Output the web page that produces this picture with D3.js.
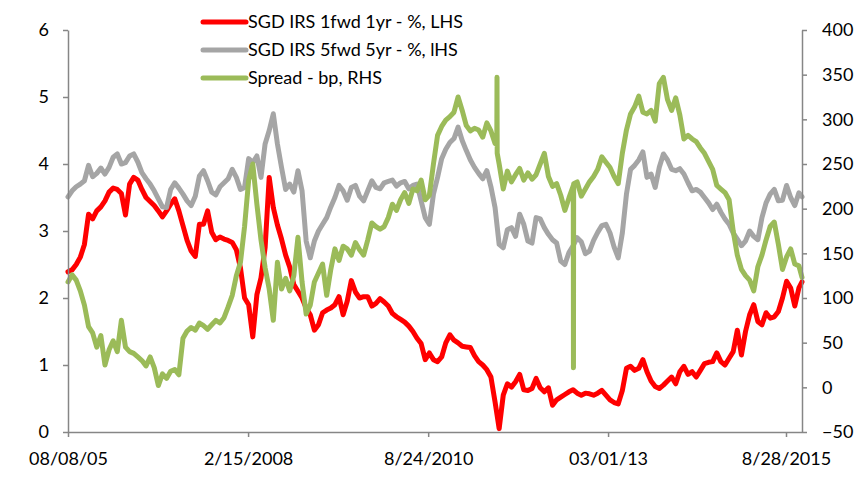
<!DOCTYPE html>
<html>
<head>
<meta charset="utf-8">
<script src="https://cdn.jsdelivr.net/npm/d3@7"></script>
<style>
    body { margin: 0; background: #ffffff; }
    text { font-family: Lato, "Open Sans", sans-serif; }
</style>
</head>
<body>
<svg id="canvas"></svg>
<script>
// sampling: one reading every 21 days from the first date
const startDate = "2005-08-08";
const stepDays = 21;

const seriesNames = ["SGD IRS 1fwd 1yr - %, LHS", "SGD IRS 5fwd 5yr - %, lHS", "Spread - bp, RHS"];

const irs1y1y = [
    2.39, 2.42, 2.50, 2.61, 2.80, 3.25, 3.18, 3.30, 3.36, 3.45,
    3.58, 3.64, 3.62, 3.56, 3.24, 3.70, 3.80, 3.76, 3.62, 3.50,
    3.44, 3.38, 3.30, 3.21, 3.30, 3.40, 3.48, 3.30, 3.08, 2.86,
    2.70, 2.62, 3.10, 3.10, 3.30, 2.98, 2.87, 2.91, 2.88, 2.86,
    2.83, 2.72, 2.45, 2.00, 1.90, 1.42, 2.05, 2.30, 2.75, 3.80,
    3.35, 3.09, 2.88, 2.64, 2.46, 2.20, 2.10, 2.00, 1.85, 1.75,
    1.52, 1.60, 1.78, 1.82, 1.85, 1.90, 2.02, 1.75, 1.95, 2.26,
    2.09, 2.00, 2.02, 2.02, 1.88, 1.92, 1.99, 1.94, 1.88, 1.77,
    1.72, 1.68, 1.64, 1.58, 1.50, 1.40, 1.32, 1.08, 1.18, 1.08,
    1.05, 1.12, 1.33, 1.45, 1.37, 1.33, 1.28, 1.27, 1.26, 1.14,
    1.05, 1.00, 0.93, 0.82, 0.45, 0.05, 0.55, 0.72, 0.67, 0.75,
    0.86, 0.63, 0.62, 0.65, 0.80, 0.66, 0.60, 0.66, 0.40, 0.48,
    0.52, 0.56, 0.60, 0.63, 0.58, 0.55, 0.58, 0.57, 0.55, 0.58,
    0.62, 0.55, 0.48, 0.44, 0.42, 0.62, 0.95, 0.98, 0.92, 0.95,
    1.08, 0.90, 0.76, 0.68, 0.65, 0.70, 0.76, 0.82, 0.72, 0.90,
    0.98, 0.86, 0.90, 0.82, 0.92, 1.02, 1.04, 1.05, 1.18, 1.05,
    1.00, 1.10, 1.20, 1.52, 1.15, 1.50, 1.75, 1.90, 1.65, 1.60,
    1.78, 1.70, 1.72, 1.80, 2.00, 2.25, 2.15, 1.88, 2.15, 2.24
];

const irs5y5y = [
    3.51, 3.60, 3.66, 3.70, 3.75, 3.98, 3.81, 3.86, 3.94, 3.85,
    3.95, 4.10, 4.15, 4.00, 4.02, 4.12, 4.15, 4.03, 3.87, 3.78,
    3.70, 3.60, 3.48, 3.36, 3.35, 3.62, 3.72, 3.64, 3.55, 3.45,
    3.38, 3.52, 3.82, 3.90, 3.75, 3.58, 3.54, 3.66, 3.72, 3.78,
    3.92, 3.80, 3.62, 3.65, 4.08, 4.02, 4.12, 3.80, 4.30, 4.50,
    4.75, 4.30, 3.95, 3.62, 3.70, 3.58, 3.90, 3.60, 2.85, 2.60,
    2.85, 3.00, 3.10, 3.20, 3.36, 3.50, 3.68, 3.60, 3.46, 3.65,
    3.68, 3.52, 3.45, 3.60, 3.75, 3.65, 3.63, 3.72, 3.74, 3.76,
    3.67, 3.72, 3.74, 3.63, 3.68, 3.70, 3.45, 3.20, 3.10, 3.55,
    3.80, 4.08, 4.22, 4.32, 4.38, 4.55, 4.35, 4.20, 4.06, 3.95,
    3.86, 3.78, 3.90, 3.66, 3.35, 2.80, 2.75, 3.02, 3.05, 2.92,
    3.25, 3.10, 2.85, 2.82, 3.20, 3.18, 3.05, 2.95, 2.87, 2.82,
    2.55, 2.50, 2.68, 2.78, 2.90, 2.84, 2.66, 2.70, 2.86, 2.98,
    3.08, 3.10, 2.97, 2.76, 2.60, 2.97, 3.55, 3.92, 3.98, 4.06,
    4.18, 3.80, 3.85, 3.65, 3.95, 4.15, 4.06, 3.92, 3.90, 3.93,
    3.85, 3.72, 3.60, 3.62, 3.58, 3.50, 3.42, 3.32, 3.40, 3.28,
    3.18, 3.10, 2.97, 2.88, 2.78, 2.85, 3.00, 2.92, 2.87, 3.20,
    3.42, 3.55, 3.62, 3.45, 3.46, 3.68, 3.50, 3.38, 3.57, 3.51
];

const spreadBp = [
    118, 126, 120, 108, 92, 68, 61, 45, 58, 25,
    42, 52, 40, 75, 45, 40, 38, 34, 30, 24,
    34, 22, 2, 15, 10, 18, 20, 14, 55, 63,
    67, 64, 72, 69, 65, 70, 75, 72, 78, 90,
    103, 125, 140, 180, 232, 250, 205, 165, 134, 110,
    75, 140, 110, 122, 108, 125, 168, 118, 82, 92,
    118, 128, 138, 103, 132, 155, 142, 158, 155, 148,
    162, 154, 148, 165, 184, 180, 177, 180, 190, 205,
    198, 210, 218, 206, 222, 220, 232, 210, 215, 250,
    282, 292, 299, 303, 308, 325, 310, 293, 287, 290,
    288, 280, 296, 287, 273, 250, 222, 242, 230, 238,
    245, 232, 240, 233, 238, 250, 262, 236, 225, 228,
    215, 198, 212, 225, 230, 214, 222, 230, 236, 244,
    258, 252, 246, 236, 228, 262, 288, 306, 314, 326,
    308, 306, 310, 298, 340, 347, 322, 310, 324, 305,
    278, 282, 278, 275, 268, 262, 253, 244, 226, 222,
    218, 210, 175, 148, 132, 125, 120, 108, 135, 148,
    165, 180, 185, 160, 132, 146, 155, 138, 136, 123
];

// single-day readings around the two spread spikes
const spikeDates = ["2011-08-10", "2011-08-11", "2011-08-12", "2012-09-04", "2012-09-05", "2012-09-06"];
const spikeValues = [272, 347, 262, 226, 22, 228];

const xTickDates = ["2005-08-08", "2008-02-15", "2010-08-24", "2013-03-01", "2015-08-28"];
const xTickLabels = ["08/08/05", "2/15/2008", "8/24/2010", "03/01/13", "8/28/2015"];
const leftTicks = [0, 1, 2, 3, 4, 5, 6];
const rightTicks = [-50, 0, 50, 100, 150, 200, 250, 300, 350, 400];

(function () {

    const width = 865;
    const height = 484;
    const margin = { top: 30, right: 63, bottom: 52, left: 68 };
    const axisColor = "#868686";
    const fontSize = 18;
    const colors = ["#ff0000", "#a5a5a5", "#9bbb59"];
    const lineWidth = 5;

    const parse = d3.utcParse("%Y-%m-%d");
    const start = parse(startDate);
    const dates = irs1y1y.map((d, i) => d3.utcDay.offset(start, i * stepDays));

    const toPoints = values => values.map((v, i) => ({ date: dates[i], value: v }));
    const spreadPoints = toPoints(spreadBp)
        .concat(spikeDates.map((d, i) => ({ date: parse(d), value: spikeValues[i] })))
        .sort((a, b) => a.date - b.date);

    const canvas = d3.select("#canvas")
        .attr("width", width)
        .attr("height", height);

    const x = d3.scaleUtc()
        .domain([parse(xTickDates[0]), parse(xTickDates[4])])
        .range([margin.left, 786]);

    const yLeft = d3.scaleLinear()
        .domain([0, 6])
        .range([height - margin.bottom, margin.top]);

    const yRight = d3.scaleLinear()
        .domain([-50, 400])
        .range([height - margin.bottom, margin.top]);

    const plotRight = width - margin.right;

    // lines: primary first, secondary (spread) on top
    const series = [
        { points: toPoints(irs1y1y), y: yLeft, color: colors[0] },
        { points: toPoints(irs5y5y), y: yLeft, color: colors[1] },
        { points: spreadPoints, y: yRight, color: colors[2] }
    ];

    canvas.selectAll("path.series")
        .data(series)
        .enter()
        .append("path")
        .attr("class", "series")
        .attr("fill", "none")
        .attr("stroke", d => d.color)
        .attr("stroke-width", lineWidth)
        .attr("stroke-linejoin", "round")
        .attr("stroke-linecap", "round")
        .attr("d", s => d3.line()
            .x(p => Math.min(x(p.date), plotRight))
            .y(p => s.y(p.value))(s.points));

    // axes
    const leftAxis = canvas.append("g")
        .attr("transform", `translate(${margin.left},0)`)
        .call(d3.axisLeft(yLeft).tickValues(leftTicks).tickFormat(d3.format("d"))
            .tickSize(5).tickSizeOuter(0).tickPadding(14));

    const rightAxis = canvas.append("g")
        .attr("transform", `translate(${plotRight},0)`)
        .call(d3.axisRight(yRight).tickValues(rightTicks).tickFormat(d3.format("d"))
            .tickSize(5).tickSizeOuter(0).tickPadding(15));

    const bottomAxis = canvas.append("g")
        .attr("transform", `translate(0,${height - margin.bottom})`)
        .call(d3.axisBottom(x)
            .tickValues(xTickDates.map(parse))
            .tickFormat((d, i) => xTickLabels[i])
            .tickSize(5).tickSizeOuter(0).tickPadding(15));

    bottomAxis.select(".domain").attr("d", `M${margin.left},0.5H${plotRight}`);

    [leftAxis, rightAxis, bottomAxis].forEach(g => {
        g.select(".domain").attr("stroke", axisColor).attr("stroke-width", 1.5);
        g.selectAll(".tick line").attr("stroke", axisColor).attr("stroke-width", 1.5);
        g.selectAll(".tick text")
            .attr("fill", "#000")
            .attr("font-size", fontSize)
            .attr("font-family", "Lato, 'Open Sans', sans-serif");
    });

    // legend
    const legend = canvas.append("g");
    const legendRows = legend.selectAll("g")
        .data(seriesNames)
        .enter()
        .append("g")
        .attr("transform", (d, i) => `translate(203,${22 + i * 28})`);

    legendRows.append("line")
        .attr("x1", 0)
        .attr("x2", 43)
        .attr("stroke", (d, i) => colors[i])
        .attr("stroke-width", lineWidth)
        .attr("stroke-linecap", "round");

    legendRows.append("text")
        .text(d => d)
        .attr("x", 45)
        .attr("dy", "0.35em")
        .attr("font-size", fontSize)
        .attr("fill", "#000");

})();
</script>
</body>
</html>
